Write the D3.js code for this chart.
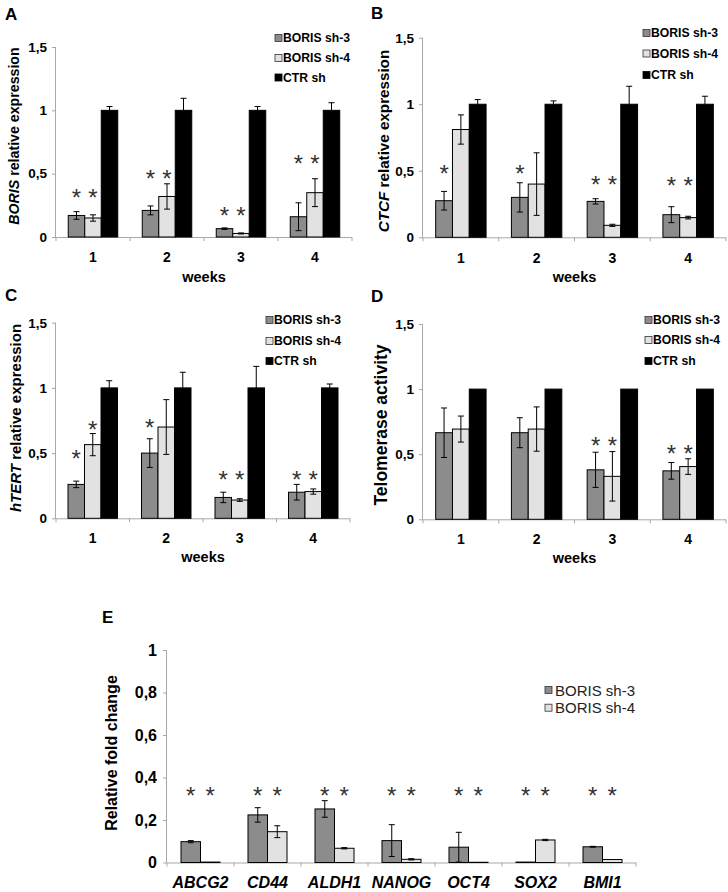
<!DOCTYPE html>
<html><head><meta charset="utf-8">
<script src="https://cdn.jsdelivr.net/npm/d3@7"></script>
<style>
html,body{margin:0;padding:0;background:#fff;}
svg{display:block;font-family:"Liberation Sans",Arial,sans-serif;}
</style></head>
<body>
<svg id="chart" width="728" height="892"></svg>
<script>
// ---------- DATA ----------
const weeks = ["1","2","3","4"];
const seriesNames = ["BORIS sh-3","BORIS sh-4","CTR sh"];
const seriesE = ["BORIS sh-3","BORIS sh-4"];
const genes = ["ABCG2","CD44","ALDH1","NANOG","OCT4","SOX2","BMI1"];
const yTicks15 = [0,0.5,1,1.5];
const yTicksE = [0,0.2,0.4,0.6,0.8,1];

// Panel A: BORIS
const A_sh3 = [0.17,0.21,0.066,0.16];   const A_sh3_err = [0.03,0.035,0.006,0.11];
const A_sh4 = [0.15,0.32,0.028,0.35];   const A_sh4_err = [0.025,0.10,0.004,0.11];
const A_ctr = [1,1,1,1];                const A_ctr_err = [0.03,0.095,0.03,0.06];
const A_star3 = [0.355,0.5,0.21,0.62];  const A_star4 = [0.355,0.5,0.21,0.62];

// Panel B: CTCF
const B_sh3 = [0.275,0.30,0.27,0.17];   const B_sh3_err = [0.07,0.11,0.02,0.06];
const B_sh4 = [0.81,0.40,0.09,0.148];   const B_sh4_err = [0.11,0.235,0.008,0.01];
const B_ctr = [1,1,1,1];                const B_ctr_err = [0.035,0.025,0.135,0.06];
const B_star3 = [0.52,0.52,0.435,0.43]; const B_star4 = [null,null,0.435,0.43];

// Panel C: hTERT
const C_sh3 = [0.26,0.50,0.16,0.20];    const C_sh3_err = [0.025,0.11,0.04,0.06];
const C_sh4 = [0.565,0.70,0.14,0.205];  const C_sh4_err = [0.085,0.21,0.01,0.02];
const C_ctr = [1,1,1,1];                const C_ctr_err = [0.055,0.12,0.165,0.03];
const C_star3 = [0.50,0.74,0.34,0.34];  const C_star4 = [0.72,null,0.34,0.34];

// Panel D: Telomerase activity
const D_sh3 = [0.665,0.665,0.38,0.372]; const D_sh3_err = [0.19,0.115,0.135,0.064];
const D_sh4 = [0.693,0.693,0.33,0.405]; const D_sh4_err = [0.10,0.17,0.19,0.06];
const D_ctr = [1,1,1,1];                const D_ctr_err = [0,0,0,0];
const D_star3 = [null,null,0.61,0.546]; const D_star4 = [null,null,0.61,0.546];

// Panel E: stemness genes
const E_sh3 = [0.098,0.224,0.252,0.103,0.072,0.002,0.074];
const E_sh3_err = [0.005,0.034,0.039,0.075,0.07,0,0.002];
const E_sh4 = [0.002,0.145,0.067,0.015,0.001,0.106,0.014];
const E_sh4_err = [0,0.028,0.003,0.003,0,0.003,0];
const E_star3 = [0.341,0.341,0.341,0.341,0.341,0.341,0.341];
const E_star4 = [0.341,0.341,0.341,0.341,0.341,0.341,0.341];

// ---------- STYLE ----------
const fills = {"BORIS sh-3":"#8c8c8c","BORIS sh-4":"#e2e2e2","CTR sh":"#000000"};
const axisColor = "#a8a8a8";
const fmt = d => String(Math.round(d*10)/10).replace(".",",");

const svg = d3.select("#chart");

function panel(cfg){
  const g = svg.append("g");
  const x = d3.scaleBand().domain(cfg.cats).range([cfg.x0,cfg.x1]);
  const y = d3.scaleLinear().domain([0,cfg.ymax]).range([cfg.y0,cfg.yTop]);
  const xs = d3.scaleBand().domain(cfg.series).range([0,cfg.barW*cfg.series.length]);
  const off = (x.bandwidth()-cfg.barW*cfg.series.length)/2;

  // y axis
  const ya = g.append("g").attr("transform",`translate(${cfg.x0},0)`)
    .call(d3.axisLeft(y).tickValues(cfg.yticks).tickFormat(fmt).tickSize(4).tickPadding(cfg.yPad||5));
  ya.select(".domain").attr("stroke",axisColor).attr("d",`M-0.5,${cfg.y0}V${cfg.yTop}`);
  ya.selectAll(".tick line").attr("stroke",axisColor);
  ya.selectAll(".tick text").attr("fill","#000").attr("font-weight","bold")
    .attr("font-size",cfg.ytickSize).attr("font-family","Liberation Sans, Arial, sans-serif");

  // x axis: labels at band centers, tick marks at band boundaries
  const xa = g.append("g").attr("transform",`translate(0,${cfg.y0})`)
    .call(d3.axisBottom(x).tickSize(0).tickPadding(0));
  xa.select(".domain").attr("stroke",axisColor).attr("d",`M${cfg.x0},0.5H${cfg.x1}`);
  xa.selectAll(".tick text").attr("fill","#000").attr("font-weight","bold")
    .attr("font-style",cfg.xItalic?"italic":"normal")
    .attr("font-size",cfg.xtickSize).attr("font-family","Liberation Sans, Arial, sans-serif")
    .attr("dy",null).attr("y",cfg.tickY-cfg.y0).attr("dominant-baseline","central");
  const bounds = cfg.cats.map(c=>x(c)).concat([cfg.x1]);
  xa.selectAll("line.bt").data(bounds).enter().append("line").attr("class","bt")
    .attr("x1",d=>d).attr("x2",d=>d).attr("y1",0).attr("y2",4).attr("stroke",axisColor);

  // bars
  cfg.series.forEach((s,si)=>{
    const vals = cfg.values[si], errs = cfg.errors[si];
    const bx = i => x(cfg.cats[i])+off+xs(s);
    g.append("g").selectAll("rect").data(vals).enter().append("rect")
      .attr("x",(d,i)=>bx(i)).attr("width",xs.bandwidth())
      .attr("y",d=>y(d)).attr("height",d=>cfg.y0-y(d))
      .attr("fill",fills[s]).attr("stroke","#000").attr("stroke-width",1);
    // error bars
    const eg = g.append("g").attr("stroke","#000").attr("stroke-width",1);
    vals.forEach((v,i)=>{
      const e = errs[i]; if(!e) return;
      const cx = bx(i)+xs.bandwidth()/2;
      eg.append("line").attr("x1",cx).attr("x2",cx).attr("y1",y(v-e)).attr("y2",y(v+e));
      eg.append("line").attr("x1",cx-3).attr("x2",cx+3).attr("y1",y(v+e)).attr("y2",y(v+e));
      eg.append("line").attr("x1",cx-3).attr("x2",cx+3).attr("y1",y(v-e)).attr("y2",y(v-e));
    });
    // stars
    if(cfg.stars && cfg.stars[si]){
      cfg.stars[si].forEach((sv,i)=>{
        if(sv==null) return;
        g.append("text").attr("x",bx(i)+xs.bandwidth()/2)
          .attr("y",y(sv)+0.575*cfg.starSize).attr("text-anchor","middle")
          .attr("font-size",cfg.starSize).attr("fill","#333").text("*");
      });
    }
  });

  // y label
  const yl = g.append("text").attr("transform",`translate(${cfg.ylx},${cfg.yly}) rotate(-90)`)
    .attr("text-anchor","middle").attr("dominant-baseline","central")
    .attr("font-weight","bold").attr("font-size",cfg.ylSize);
  if(cfg.ylItalic) yl.append("tspan").attr("font-style","italic").text(cfg.ylItalic);
  yl.append("tspan").text(cfg.ylRest);

  // x title
  if(cfg.xTitle){
    g.append("text").attr("x",(cfg.x0+cfg.x1)/2).attr("y",cfg.xTitleY)
      .attr("text-anchor","middle").attr("dominant-baseline","central")
      .attr("font-weight","bold").attr("font-size",cfg.xTitleSize).text(cfg.xTitle);
  }

  // panel letter
  g.append("text").attr("x",cfg.letter[0]).attr("y",cfg.letter[1])
    .attr("font-weight","bold").attr("font-size",cfg.letterSize||17).text(cfg.letter[2]);

  // legend
  const lg = g.append("g");
  cfg.series.forEach((s,si)=>{
    const ly = cfg.legend.ys[si];
    const q = cfg.legend.sq;
    lg.append("rect").attr("x",cfg.legend.sqX).attr("y",ly-q/2).attr("width",q).attr("height",q)
      .attr("fill",fills[s]).attr("stroke",s==="CTR sh"?"#000":"#333").attr("stroke-width",0.8);
    lg.append("text").attr("x",cfg.legend.txtX).attr("y",ly).attr("dominant-baseline","central")
      .attr("font-weight",cfg.legend.weight).attr("font-size",cfg.legend.size)
      .attr("fill",cfg.legend.color||"#000").text(s);
  });
}

const common = {cats:weeks, series:seriesNames, ymax:1.5, yticks:yTicks15, ytickSize:13.5,
  xtickSize:14, xTitle:"weeks", xTitleSize:14.5, starSize:24, letterSize:17};

panel(Object.assign({}, common, {x0:56,x1:352,y0:237,yTop:47,barW:16.5,
  values:[A_sh3,A_sh4,A_ctr], errors:[A_sh3_err,A_sh4_err,A_ctr_err], stars:[A_star3,A_star4],
  tickY:257, xTitleY:277, ylx:14, yly:136, ylSize:14.2, ylItalic:"BORIS", ylRest:" relative expression",
  letter:[5,20,"A"], legend:{sqX:275,txtX:283,ys:[38,58,77.5],sq:7,size:12.2,weight:"bold"}}));

panel(Object.assign({}, common, {x0:423,x1:726,y0:237.3,yTop:37.7,barW:16.8,
  values:[B_sh3,B_sh4,B_ctr], errors:[B_sh3_err,B_sh4_err,B_ctr_err], stars:[B_star3,B_star4],
  tickY:258, xTitleY:277, ylx:383, yly:141, ylSize:15.2, ylItalic:"CTCF", ylRest:" relative expression",
  letter:[371,19,"B"], legend:{sqX:643,txtX:651,ys:[33,53.5,75],sq:7,size:12.2,weight:"bold"}}));

panel(Object.assign({}, common, {x0:56,x1:350,y0:518.3,yTop:322.7,barW:16.5,
  values:[C_sh3,C_sh4,C_ctr], errors:[C_sh3_err,C_sh4_err,C_ctr_err], stars:[C_star3,C_star4],
  tickY:538, xTitleY:557, ylx:15, yly:418, ylSize:15, ylItalic:"hTERT", ylRest:" relative expression",
  letter:[5,301,"C"], legend:{sqX:266,txtX:274,ys:[320,341,361],sq:7,size:12.2,weight:"bold"}}));

panel(Object.assign({}, common, {x0:423,x1:726,y0:519.3,yTop:324,barW:16.8,
  values:[D_sh3,D_sh4,D_ctr], errors:[D_sh3_err,D_sh4_err,D_ctr_err], stars:[D_star3,D_star4],
  tickY:539, xTitleY:558, ylx:381, yly:425, ylSize:17.5, ylItalic:null, ylRest:"Telomerase activity",
  letter:[371,302,"D"], legend:{sqX:645,txtX:653,ys:[320,340,361],sq:7,size:12.2,weight:"bold"}}));

panel({cats:genes, series:seriesE, ymax:1, yticks:yTicksE, ytickSize:16, xtickSize:16, xItalic:true,
  xTitle:null, starSize:24, letterSize:17, yPad:6,
  x0:167,x1:636,y0:862.5,yTop:650,barW:19.5,
  values:[E_sh3,E_sh4], errors:[E_sh3_err,E_sh4_err], stars:[E_star3,E_star4],
  tickY:882, ylx:111, yly:753, ylSize:16, ylItalic:null, ylRest:"Relative fold change",
  letter:[102,623,"E"], legend:{sqX:545,txtX:555,ys:[690,707.7],sq:7,size:15,weight:"normal",color:"#222"}});
</script>
</body></html>
